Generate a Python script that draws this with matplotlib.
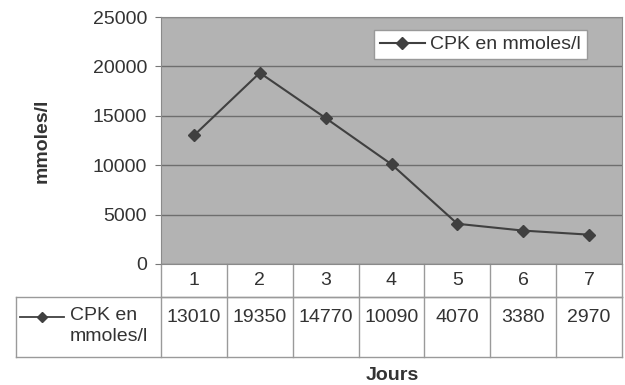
import matplotlib.pyplot as plt
import matplotlib.transforms as mtransforms

plt.rcParams['font.family'] = ['Liberation Sans', 'DejaVu Sans']

days = [1, 2, 3, 4, 5, 6, 7]
cpk = [13010, 19350, 14770, 10090, 4070, 3380, 2970]
series_name = "CPK en mmoles/l"
yticks = [0, 5000, 10000, 15000, 20000, 25000]

fs = 14
W, H = 625, 385
fig = plt.figure(figsize=(W / 100, H / 100), dpi=100)
ax = fig.add_axes([161 / W, (H - 264) / H, (622 - 161) / W, (264 - 17) / H])
ax.set_facecolor('#b3b3b3')

line_col = '#404040'
ax.plot(days, cpk, color=line_col, lw=1.5, marker='D', ms=6, label=series_name)

ax.set_xlim(0.5, 7.5)
ax.set_ylim(0, 25000)
ax.set_yticks(yticks)
ax.set_yticklabels([str(v) for v in yticks], fontsize=fs, color='#333333')
ax.set_xticks([])
ax.grid(axis='y', color='#6e6e6e', lw=1)
ax.set_axisbelow(True)
ax.tick_params(axis='y', length=4, color='#777777', pad=6)
for s in ax.spines.values():
    s.set_color('#8a8a8a')
ax.set_ylabel("mmoles/l", fontsize=fs, fontweight='bold', color='#333333', labelpad=30)

leg = ax.legend(loc='upper right', bbox_to_anchor=((587 - 161) / 461, (264 - 30) / 247),
                borderaxespad=0, fontsize=fs, frameon=True, fancybox=False,
                handlelength=2.3, handletextpad=0.3, borderpad=0.3, framealpha=1)
leg.get_frame().set_edgecolor('#999999')
leg.get_frame().set_facecolor('white')
leg.get_frame().set_linewidth(1)
for t in leg.get_texts():
    t.set_color('#333333')

# data table below the axes
tr = mtransforms.blended_transform_factory(ax.transData, ax.transAxes)
ah = 247.0
px = 7 / 461
r1 = -33 / ah
r2 = -93 / ah
left = 0.5 - 145 * px
gc = '#9a9a9a'
kw = dict(color=gc, lw=1, transform=tr, clip_on=False)
ax.plot([0.5, 7.5], [r1, r1], **kw)
ax.plot([left, 7.5], [r1, r1], **kw)
ax.plot([left, 7.5], [r2, r2], **kw)
ax.plot([left, left], [r1, r2], **kw)
for i in range(8):
    ax.plot([0.5 + i, 0.5 + i], [0, r2], **kw)
for d, v in zip(days, cpk):
    ax.text(d, r1 / 2, str(d), transform=tr, ha='center', va='center',
            fontsize=fs, color='#333333')
    ax.text(d, r1 - 20 / ah, str(v), transform=tr, ha='center', va='center',
            fontsize=fs, color='#333333')

x0 = left + 4 * px
ax.plot([x0, x0 + 44 * px], [r1 - 20 / ah] * 2, color=line_col, lw=1.3,
        transform=tr, clip_on=False)
ax.plot([x0 + 22 * px], [r1 - 20 / ah], color=line_col, marker='D', ms=5,
        transform=tr, clip_on=False)
ax.text(left + 54 * px, r1 - 10 / ah, "CPK en\nmmoles/l", transform=tr,
        ha='left', va='top', fontsize=fs, color='#333333', linespacing=1.3)

fig.text(392 / W, 1 - 375 / H, "Jours", ha='center', va='center',
         fontsize=fs, fontweight='bold', color='#333333')

fig.savefig("out.png", dpi=100)
